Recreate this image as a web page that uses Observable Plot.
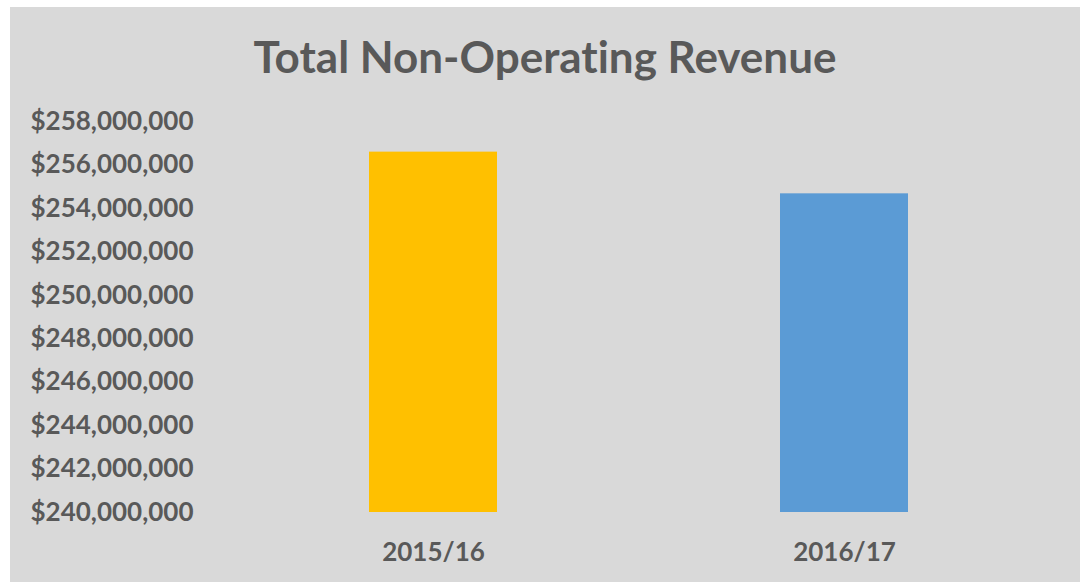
<!DOCTYPE html>
<html>
<head>
<meta charset="utf-8">
<script src="https://cdn.jsdelivr.net/npm/d3@7"></script>
<script src="https://cdn.jsdelivr.net/npm/@observablehq/plot@0.6"></script>
<style>
  html, body { margin: 0; padding: 0; background: #ffffff; width: 1080px; height: 582px; overflow: hidden; }
  #panel { position: absolute; left: 10px; top: 7px; width: 1070px; height: 575px; background: #d9d9d9; }
  #title { position: absolute; left: 0; width: 1090px; top: 30px; text-align: center;
           font-family: Lato, sans-serif; font-weight: bold; font-size: 44px; color: #595959; line-height: 52px;
           font-variant-ligatures: none; }
  #chart { position: absolute; left: 0; top: 0; }
  #chart svg text { font-variant-ligatures: none; }
</style>
</head>
<body>
<div id="panel"></div>
<div id="title">Total Non-Operating Revenue</div>
<div id="chart"></div>
<script>
const years = ["2015/16", "2016/17"];
const revenue = [256590000, 254670000];
const barColors = ["#ffc000", "#5b9bd5"];
const yTicks = [240000000, 242000000, 244000000, 246000000, 248000000, 250000000, 252000000, 254000000, 256000000, 258000000];

const data = years.map((y, i) => ({year: y, value: revenue[i], color: barColors[i]}));

const chart = Plot.plot({
  width: 1080,
  height: 582,
  marginTop: 121,
  marginBottom: 70,
  marginLeft: 227,
  marginRight: 30,
  style: {background: "transparent", fontFamily: "Lato, sans-serif", fontSize: "26px", color: "#595959", overflow: "visible"},
  x: {domain: years, paddingInner: 0.689, paddingOuter: 0.3445, label: null, tickSize: 0, tickPadding: 30},
  y: {domain: [yTicks[0], yTicks[yTicks.length - 1]], ticks: yTicks, tickFormat: d3.format("$,.0f"), label: null, tickSize: 0, tickPadding: 34},
  marks: [
    Plot.barY(data, {x: "year", y1: yTicks[0], y2: "value", fill: "color"}),
    Plot.axisY({ticks: yTicks, tickFormat: d3.format("$,.0f"), tickSize: 0, tickPadding: 34, label: null, fill: "#595959", fontWeight: "bold", fontSize: 26}),
    Plot.axisX({tickSize: 0, tickPadding: 30, label: null, fill: "#595959", fontWeight: "bold", fontSize: 26})
  ]
});
document.getElementById("chart").appendChild(chart);
</script>
</body>
</html>
